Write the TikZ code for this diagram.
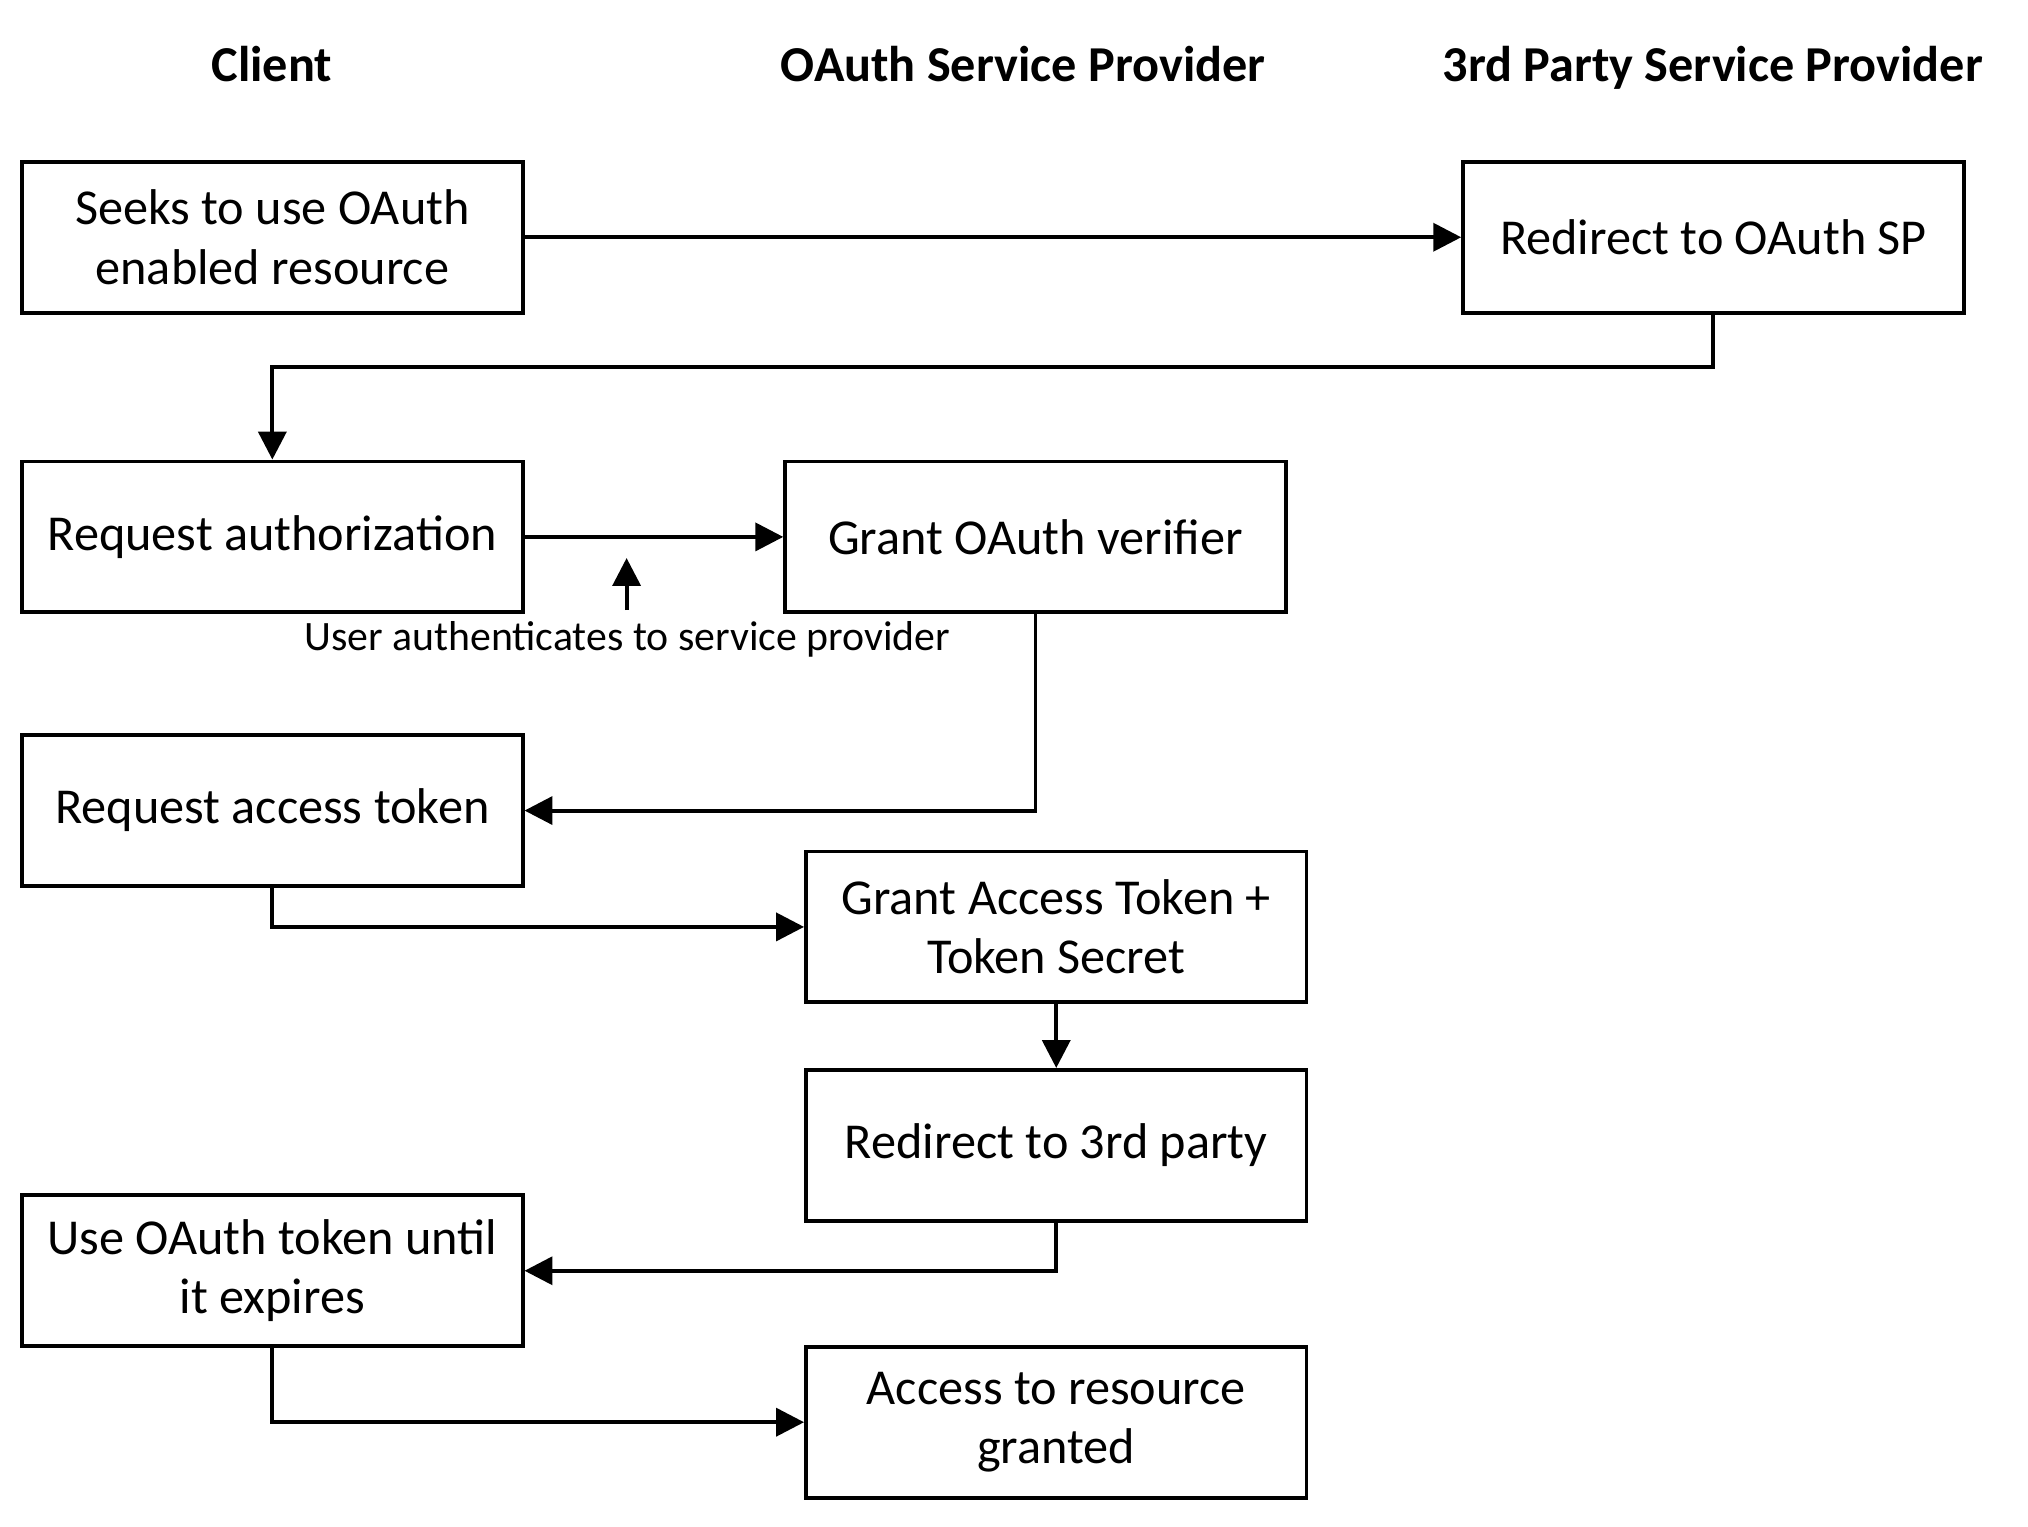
\documentclass[tikz,border=0pt]{standalone}
\usepackage{fontspec}
\setmainfont{Carlito}
\usetikzlibrary{arrows.meta, calc}

\begin{document}
\begin{tikzpicture}[
    box/.style={draw, line width=1.7pt, minimum width=7.70cm, minimum height=2.32cm, inner sep=0pt, align=center, font=\fontsize{22}{26}\selectfont},
    head/.style={font=\fontsize{22}{26}\selectfont\bfseries, anchor=base},
    note/.style={font=\fontsize{18.3}{22}\selectfont, inner sep=0pt, anchor=base},
    arr/.style={line width=1.7pt, -{Triangle[length=0.43cm, width=0.43cm]}}
]
\useasboundingbox (0,0) rectangle (31.2,-23.477);

% column headings
\node[head] (hclient) at (4.18,-1.25) {Client};
\node[head] (hoauth) at (15.74,-1.25) {OAuth Service Provider};
\node[head] (hthird) at (26.35,-1.25) {3rd Party Service Provider};

% steps
\node[box] (seek) at (4.19,-3.65) {Seeks to use OAuth\\enabled resource};
\node[box] (redirsp) at (26.36,-3.65) {Redirect to OAuth SP};
\node[box] (reqauth) at (4.19,-8.26) {Request authorization};
\node[box] (verifier) at (15.93,-8.26) {Grant OAuth verifier};
\node[box] (reqtoken) at (4.19,-12.47) {Request access token};
\node[box] (granttoken) at (16.25,-14.26) {Grant Access Token +\\Token Secret};
\node[box] (redirthird) at (16.25,-17.62) {Redirect to 3rd party};
\node[box] (usetoken) at (4.19,-19.55) {Use OAuth token until\\it expires};
\node[box] (access) at (16.25,-21.88) {Access to resource\\granted};

% user authentication
\node[note] (auth) at (9.65,-10.0) {User authenticates to service provider};
\coordinate (authfoot) at (9.64,-9.385);
\coordinate (authtip) at (9.64,-8.585);

% flow
\draw[arr] (seek.east) -- (redirsp.west);
\draw[arr] (redirsp.south) |- ($(reqauth.north)+(0,1.42)$) -- (reqauth.north);
\draw[arr] (reqauth.east) -- (verifier.west);
\draw[arr] (authfoot) -- (authtip);
\draw[arr] (verifier.south) |- (reqtoken.east);
\draw[arr] (reqtoken.south) |- (granttoken.west);
\draw[arr] (granttoken.south) -- (redirthird.north);
\draw[arr] (redirthird.south) |- (usetoken.east);
\draw[arr] (usetoken.south) |- (access.west);
\end{tikzpicture}
\end{document}
